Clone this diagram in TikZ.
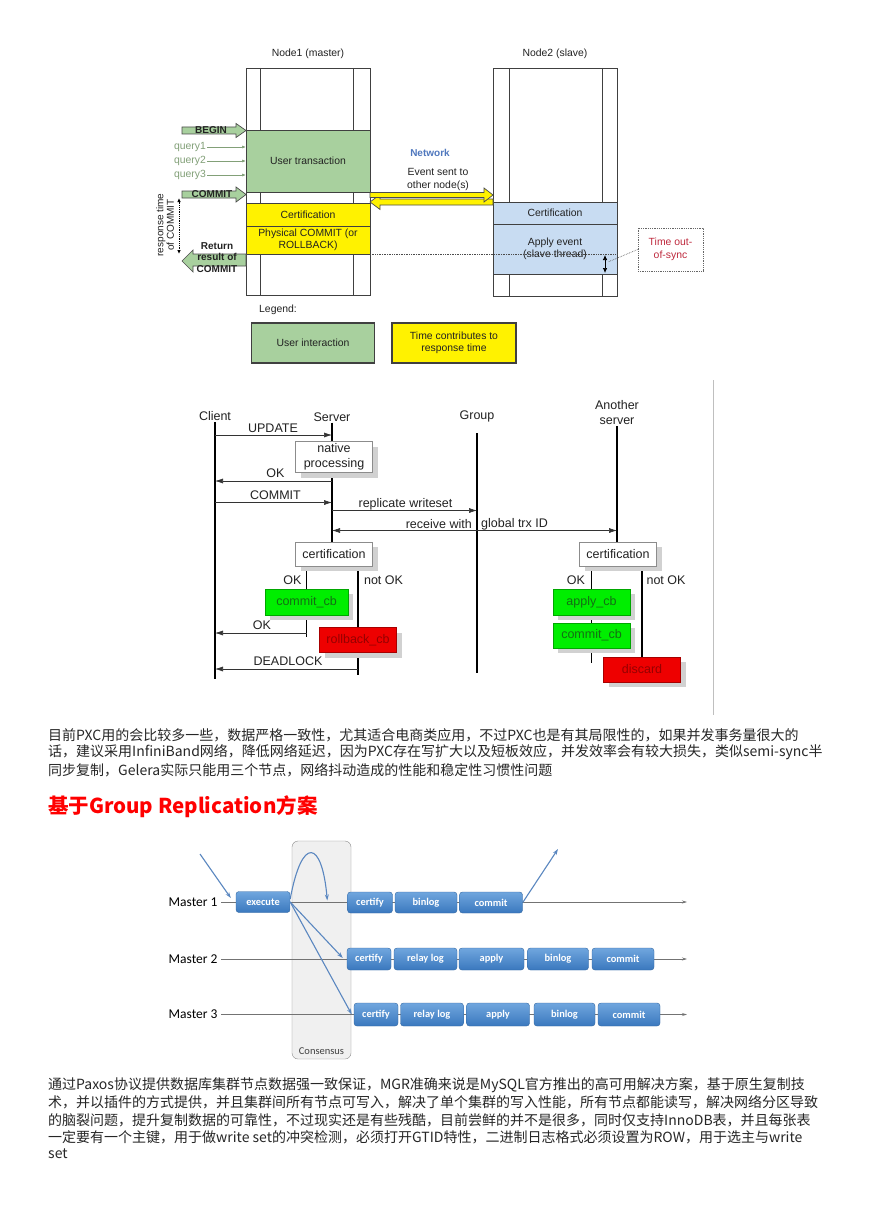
\documentclass[tikz,border=0pt]{standalone}
\usepackage{fontspec}
\setmainfont{Liberation Sans}
\newfontfamily\cjk{Noto Sans CJK SC}
\newfontfamily\calib{Carlito}
\usetikzlibrary{arrows.meta,shadows,positioning}
\pgfdeclarelayer{back}
\pgfdeclarelayer{bg}
\pgfsetlayers{back,bg,main}
\definecolor{ugreen}{RGB}{168,208,158}
\definecolor{ublue}{RGB}{200,220,242}
\definecolor{netblue}{RGB}{80,120,190}
\definecolor{syncred}{RGB}{190,40,60}
\definecolor{qgreen}{RGB}{130,160,120}
\definecolor{okgreen}{RGB}{0,238,0}
\definecolor{okink}{RGB}{20,110,20}
\definecolor{badred}{RGB}{238,0,0}
\definecolor{badink}{RGB}{150,0,0}
\definecolor{mgrtop}{RGB}{112,166,222}
\definecolor{mgrbot}{RGB}{58,120,190}
\definecolor{mgrarrow}{RGB}{90,135,192}
\definecolor{ink}{RGB}{34,34,34}

\tikzset{
  % Galera picture
  gtxt/.style={font=\fontsize{10.4}{12.5}\selectfont, text=ink, align=center, inner sep=1pt},
  column/.style={draw=black!75, line width=0.8pt},
  band/.style={gtxt, draw=black!75, line width=0.8pt, inner sep=0pt, outer sep=0pt, minimum width=124},
  fatarrow/.style={draw=black!70, fill=ugreen, line width=0.7pt},
  yarrow/.style={draw=black!70, fill=yellow, line width=0.7pt},
  query/.style={gtxt, text=qgreen},
  qarrow/.style={draw=qgreen, line width=0.7pt, -{Latex[length=4pt,width=3pt]}},
  boldlbl/.style={gtxt, font=\bfseries\fontsize{10}{11.5}\selectfont},
  % group replication sequence
  stxt/.style={font=\fontsize{12.5}{15}\selectfont, text=ink, align=center, inner sep=1pt},
  lifeline/.style={line width=1.5pt},
  msg/.style={draw=black!80, line width=0.6pt, -{Latex[length=8pt,width=5pt]}},
  sbox/.style={stxt, draw=black!45, fill=white, inner sep=0pt, minimum width=77, drop shadow={shadow xshift=5pt, shadow yshift=-5pt, fill=black!18, opacity=1}},
  okbox/.style={sbox, draw=okgreen!70!black, fill=okgreen, text=okink},
  badbox/.style={sbox, draw=badred!70!black, fill=badred, text=badink},
  % MGR pipeline
  mtxt/.style={font=\calib\fontsize{13.5}{16}\selectfont, text=black},
  stage/.style={font=\calib\bfseries\fontsize{10.4}{12}\selectfont, text=white, rounded corners=3pt, draw=mgrbot!85!black, line width=0.4pt, top color=mgrtop, bottom color=mgrbot, inner sep=0pt},
  track/.style={draw=black!55, line width=0.7pt, -{Stealth[length=5pt,width=3pt]}},
  flow/.style={draw=mgrarrow, line width=1.1pt, -{Stealth[length=6pt,width=4pt]}},
  % page text
  para/.style={font=\cjk\fontsize{14}{17}\selectfont, text=black!85, anchor=west, inner sep=0pt},
}

\begin{document}
\begin{tikzpicture}[x=1pt,y=-1pt]
\begin{pgfonlayer}{back}
\fill[white] (0,0) rectangle (868,1228);
\draw[rounded corners=6pt, draw=black!45, fill=black!6] (292,841) rectangle (351,1059);
\end{pgfonlayer}
\useasboundingbox (0,0) rectangle (868,1228);

% ---- Galera: master and slave columns
\node[gtxt] (n1title) at (308,54) {Node1 (master)};
\node[gtxt] (n2title) at (555,54) {Node2 (slave)};
\draw[column] (246,68) rectangle (370,295);
\draw[column] (260,68) -- (260,295) (353,68) -- (353,295);
\draw[column] (493,68) rectangle (617,296);
\draw[column] (509,68) -- (509,296) (602,68) -- (602,296);
\node[band, fill=ugreen, minimum height=62] (utx) at (308,161) {User transaction};
\node[band, fill=yellow, minimum height=23] (cert1) at (308,214.5) {Certification};
\node[band, fill=yellow, minimum height=28] (phys) at (308,240) {Physical COMMIT (or\\ROLLBACK)};
\node[band, fill=ublue, minimum height=22] (cert2) at (555,213) {Certification};
\node[band, fill=ublue, minimum height=50] (apply) at (555,249) {Apply event\\(slave thread)};

% user side arrows
\draw[fatarrow] (182,127) -- (236,127) -- (236,123.5) -- (246,130.5) -- (236,137.5) -- (236,134) -- (182,134) -- cycle;
\node[boldlbl] (begin) at (211,130.5) {BEGIN};
\foreach \q/\y in {1/147,2/161,3/175}
  \node[query, anchor=east] (q\q) at (207,\y) {query\q};
\foreach \q in {1,2,3}
  \draw[qarrow] (q\q.east) -- (q\q.east -| utx.west);
\draw[fatarrow] (182,191) -- (236,191) -- (236,187) -- (246,194.5) -- (236,202) -- (236,198) -- (182,198) -- cycle;
\node[boldlbl] (commit) at (212,194.5) {COMMIT};
\draw[fatarrow] (246,254) -- (193,254) -- (193,250) -- (182,261) -- (193,272) -- (193,266) -- (246,266) -- cycle;
\node[boldlbl] (return) at (217,257.5) {Return\\result of\\COMMIT};
\node[gtxt, rotate=90, font=\fontsize{10}{10.5}\selectfont] (resp) at (165,225) {response time\\of COMMIT};
\coordinate (rtop) at (179,198);
\coordinate (rbot) at (179,254);
\draw[densely dotted, line width=0.8pt, {Latex[length=4pt,width=3.5pt]}-{Latex[length=4pt,width=3.5pt]}] (rtop) -- (rbot);

% network
\draw[yarrow] (493,199) -- (380,199) -- (380,194.5) -- (370,202) -- (380,209.5) -- (380,205) -- (493,205) -- cycle;
\draw[yarrow] (370,192.5) -- (484,192.5) -- (484,188) -- (493,195) -- (484,202) -- (484,197.5) -- (370,197.5) -- cycle;
\node[gtxt, font=\bfseries\fontsize{10}{12}\selectfont, text=netblue] (net) at (430,153) {Network};
\node[gtxt] (event) at (438,179.5) {Event sent to\\other node(s)};

% out of sync
\draw[densely dotted, black!70, line width=0.7pt] (phys.south east) -- (phys.south east -| apply.east);
\node[gtxt, text=syncred, draw=black!60, densely dotted, line width=0.8pt, minimum width=65, minimum height=43] (tos) at (670.5,249.5) {Time out-\\of-sync};
\coordinate (gap) at (608,262);
\coordinate (stop) at (605,255);
\coordinate (sbot) at (605,273);
\draw[densely dotted, black!60, line width=0.7pt] (tos.west) -- (gap);
\draw[line width=0.7pt, {Latex[length=5pt,width=4.5pt]}-{Latex[length=5pt,width=4.5pt]}] (stop) -- (sbot);

% legend
\node[gtxt, anchor=west] (legend) at (258,310) {Legend:};
\node[band, fill=ugreen, minimum width=123, minimum height=40, line width=1.2pt] (lgreen) at (313,343) {User interaction};
\node[band, fill=yellow, minimum width=124, minimum height=40, line width=1.2pt] (lyellow) at (454,343) {Time contributes to\\response time};

% ---- Group replication sequence
\node[stxt] (client) at (215,416) {Client};
\node[stxt] (server) at (332,417) {Server};
\node[stxt] (group) at (477,416) {Group};
\node[stxt] (another) at (617,413) {Another\\server};
\node[sbox, minimum height=31] (native) at (334,457) {native\\processing};
\node[sbox, minimum height=24] (scert) at (334,554) {certification};
\node[okbox, minimum width=83, minimum height=26] (scommit) at (306.5,602) {commit\_cb};
\node[badbox, minimum height=25] (rollback) at (358,640) {rollback\_cb};
\node[sbox, minimum height=24] (acert) at (618,554) {certification};
\node[okbox, minimum height=26] (applycb) at (591.5,602) {apply\_cb};
\node[okbox, minimum height=25] (acommit) at (591.5,635.5) {commit\_cb};
\node[badbox, minimum height=25] (discard) at (642,669.5) {discard};

\begin{pgfonlayer}{bg}
\draw[lifeline] (client.south) -- (client.south |- 0,679);
\draw[lifeline] (server.south) -- (scert.north -| server.south);
\draw[lifeline] (group.south |- 0,433) -- (group.south |- 0,673);
\draw[lifeline] (another.south) -- (acert.north -| another.south);
\draw[lifeline] (scommit.north |- scert.south) -- (scommit.north |- 0,637);
\draw[lifeline] (rollback.north |- scert.south) -- (rollback.north |- 0,675);
\draw[lifeline] (applycb.north |- acert.south) -- (applycb.north |- 0,663);
\draw[lifeline] (discard.north |- acert.south) -- (discard.north |- 0,687);
\end{pgfonlayer}

\draw[msg] (client.south |- 0,435) -- (server.south |- 0,435);
\node[stxt] (lupdate) at (273,428.5) {UPDATE};
\draw[msg] (server.south |- 0,481) -- (client.south |- 0,481);
\node[stxt] (lok1) at (275.5,473) {OK};
\draw[msg] (client.south |- 0,502.5) -- (server.south |- 0,502.5);
\node[stxt] (lcommit) at (275.5,495.5) {COMMIT};
\draw[msg] (server.south |- 0,510.5) -- (group.south |- 0,510.5);
\node[stxt] (lrepl) at (405.5,504) {replicate writeset};
\draw[msg, {Latex[length=8pt,width=5pt]}-{Latex[length=8pt,width=5pt]}] (server.south |- 0,530.5) -- (another.south |- 0,530.5);
\node[stxt, anchor=east] (lrecv) at (473,524) {receive with};
\node[stxt, anchor=west] (lglobal) at (480,524) {global trx ID};
\node[stxt] (lsok) at (292.5,580) {OK};
\node[stxt] (lsnot) at (383.5,580) {not OK};
\node[stxt] (laok) at (576,580) {OK};
\node[stxt] (lanot) at (666,580) {not OK};
\draw[msg] (scommit.north |- 0,633) -- (client.south |- 0,633);
\node[stxt] (lok2) at (262,625.5) {OK};
\draw[msg] (rollback.north |- 0,669) -- (client.south |- 0,669);
\node[stxt] (ldead) at (288,661.5) {DEADLOCK};
\draw[black!25, line width=0.6pt] (713,380) -- (713,715);

% ---- paragraph 1
\node[para] (p1a) at (48,735) {目前PXC用的会比较多一些，数据严格一致性，尤其适合电商类应用，不过PXC也是有其局限性的，如果并发事务量很大的};
\node[para] (p1b) at (48,752.5) {话，建议采用InfiniBand网络，降低网络延迟，因为PXC存在写扩大以及短板效应，并发效率会有较大损失，类似semi-sync半};
\node[para] (p1c) at (48,770) {同步复制，Gelera实际只能用三个节点，网络抖动造成的性能和稳定性习惯性问题};
\node[para, font=\cjk\bfseries\fontsize{20.5}{24}\selectfont, text=red] (head) at (48,807) {基于Group Replication方案};

% ---- MGR pipeline
\node[mtxt, anchor=east] (m1) at (221,902) {Master 1};
\node[mtxt, anchor=east] (m2) at (221,959) {Master 2};
\node[mtxt, anchor=east] (m3) at (221,1014.5) {Master 3};
\node[gtxt, font=\calib\fontsize{10.5}{12}\selectfont, text=black!75] (consensus) at (321.5,1051) {Consensus};

\node[stage, minimum width=54, minimum height=21] (exec) at (263,902) {execute};
\node[stage, minimum width=45, minimum height=21] (cf1) at (370,902.5) {certify};
\node[stage, minimum width=62, minimum height=21] (bl1) at (426,902.5) {binlog};
\node[stage, minimum width=63, minimum height=21] (cm1) at (491,902.5) {commit};
\node[stage, minimum width=44, minimum height=22] (cf2) at (369,959) {certify};
\node[stage, minimum width=63, minimum height=22] (rl2) at (425.5,959) {relay log};
\node[stage, minimum width=65, minimum height=22] (ap2) at (491.5,959) {apply};
\node[stage, minimum width=61, minimum height=22] (bl2) at (558,959) {binlog};
\node[stage, minimum width=62, minimum height=22] (cm2) at (623,959) {commit};
\node[stage, minimum width=44, minimum height=23] (cf3) at (376,1014.5) {certify};
\node[stage, minimum width=63, minimum height=23] (rl3) at (432,1014.5) {relay log};
\node[stage, minimum width=63, minimum height=23] (ap3) at (498,1014.5) {apply};
\node[stage, minimum width=61, minimum height=23] (bl3) at (564.5,1014.5) {binlog};
\node[stage, minimum width=62, minimum height=23] (cm3) at (629,1014.5) {commit};

\begin{pgfonlayer}{bg}
\draw[track] (m1.east) -- (m1.east -| 687,0);
\draw[track] (m2.east) -- (m2.east -| 687,0);
\draw[track] (m3.east) -- (m3.east -| 687,0);
\coordinate (src) at (200,854);
\coordinate (out1) at (558,849);
\draw[flow] (src) -- ([xshift=-5pt,yshift=4pt]exec.west);
\draw[flow] ([yshift=3pt]exec.east) .. controls (302,835) and (322,840) .. ([xshift=-20pt,yshift=2pt]cf1.west);
\draw[flow] (exec.east) -- ([xshift=-4pt,yshift=1pt]cf2.west);
\draw[flow] (exec.east) -- ([xshift=-2pt]cf3.west);
\draw[flow] (cm1.east) -- (out1);
\end{pgfonlayer}

% ---- paragraph 2
\node[para] (p2a) at (48,1085) {通过Paxos协议提供数据库集群节点数据强一致保证，MGR准确来说是MySQL官方推出的高可用解决方案，基于原生复制技};
\node[para] (p2b) at (48,1102.5) {术，并以插件的方式提供，并且集群间所有节点可写入，解决了单个集群的写入性能，所有节点都能读写，解决网络分区导致};
\node[para] (p2c) at (48,1120) {的脑裂问题，提升复制数据的可靠性，不过现实还是有些残酷，目前尝鲜的并不是很多，同时仅支持InnoDB表，并且每张表};
\node[para] (p2d) at (48,1137) {一定要有一个主键，用于做write set的冲突检测，必须打开GTID特性，二进制日志格式必须设置为ROW，用于选主与write};
\node[para] (p2e) at (48,1153.5) {set};
\end{tikzpicture}
\end{document}
